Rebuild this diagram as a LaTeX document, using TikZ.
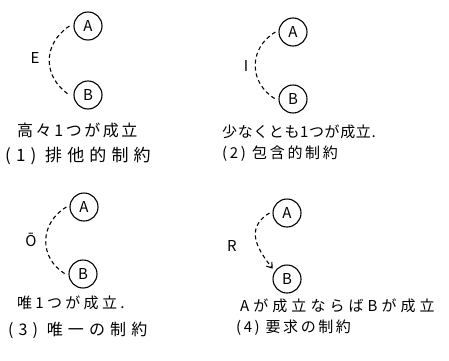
\documentclass[tikz,border=0pt]{standalone}
\usepackage{fontspec}
\setmainfont{Noto Sans CJK JP}
\usetikzlibrary{arrows.meta}
\newcommand{\myspaced}[2]{\fontsize{#1}{#1}\selectfont\addfontfeature{LetterSpace=#2}}
\tikzset{
  ent/.style={circle,draw,line width=1.1pt,minimum size=28pt,inner sep=0pt,font=\fontsize{15}{15}\selectfont},
  rel/.style={line width=1.1pt,dash pattern=on 4pt off 3pt},
  lbl/.style={font=\fontsize{15}{15}\selectfont,inner sep=0pt},
  txt/.style={anchor=west,inner sep=0pt}
}
\begin{document}
\begin{tikzpicture}[x=1pt,y=1pt]
\useasboundingbox (0,0) rectangle (449,360);
% panel 1
\node[ent] (a1) at (88,334) {A};
\node[ent] (b1) at (88,265) {B};
\node[lbl] (e1) at (35,302) {E};
\draw[rel] ([xshift=-4pt]a1.west) .. controls +(-27,-18) and +(-27,18) .. ([xshift=-4pt]b1.west);
\node[txt,font=\myspaced{16}{16}] (t1a) at (17,230) {高々1つが成立};
\node[txt,font=\myspaced{17}{30}] (t1b) at (5,204) {(1) 排他的制約};
% panel 2
\node[ent] (a2) at (293,328) {A};
\node[ent] (b2) at (293,261) {B};
\node[lbl] (e2) at (246,294) {I};
\draw[rel] ([xshift=-3pt]a2.west) .. controls +(-27,-16) and +(-27,16) .. ([xshift=-3pt]b2.west);
\node[txt,font=\myspaced{15}{4}] (t2a) at (222,228) {少なくとも1つが成立.};
\node[txt,font=\myspaced{15}{18}] (t2b) at (222,206) {(2) 包含的制約};
% panel 3
\node[ent] (a3) at (84,153) {A};
\node[ent] (b3) at (83,86) {B};
\node[lbl] (e3) at (31,120) {Ō};
\draw[rel] ([xshift=-3pt]a3.west) .. controls +(-27,-16) and +(-27,16) .. ([xshift=-3pt]b3.west);
\node[txt,font=\myspaced{15}{22}] (t3a) at (17,57) {唯1つが成立.};
\node[txt,font=\myspaced{16}{32}] (t3b) at (8,30) {(3) 唯一の制約};
% panel 4
\node[ent] (a4) at (287,147) {A};
\node[ent] (b4) at (287,81) {B};
\node[lbl] (e4) at (232,114) {R};
\draw[rel,-{Straight Barb[length=5pt,width=7pt]}] ([xshift=-3pt]a4.west) .. controls +(-26,-16) and +(-14,18) .. ([xshift=-4pt]b4.north west);
\node[txt,font=\myspaced{15}{27}] (t4a) at (240,54) {Aが成立ならばBが成立};
\node[txt,font=\myspaced{15}{17}] (t4b) at (236,32) {(4) 要求の制約};
\end{tikzpicture}
\end{document}
